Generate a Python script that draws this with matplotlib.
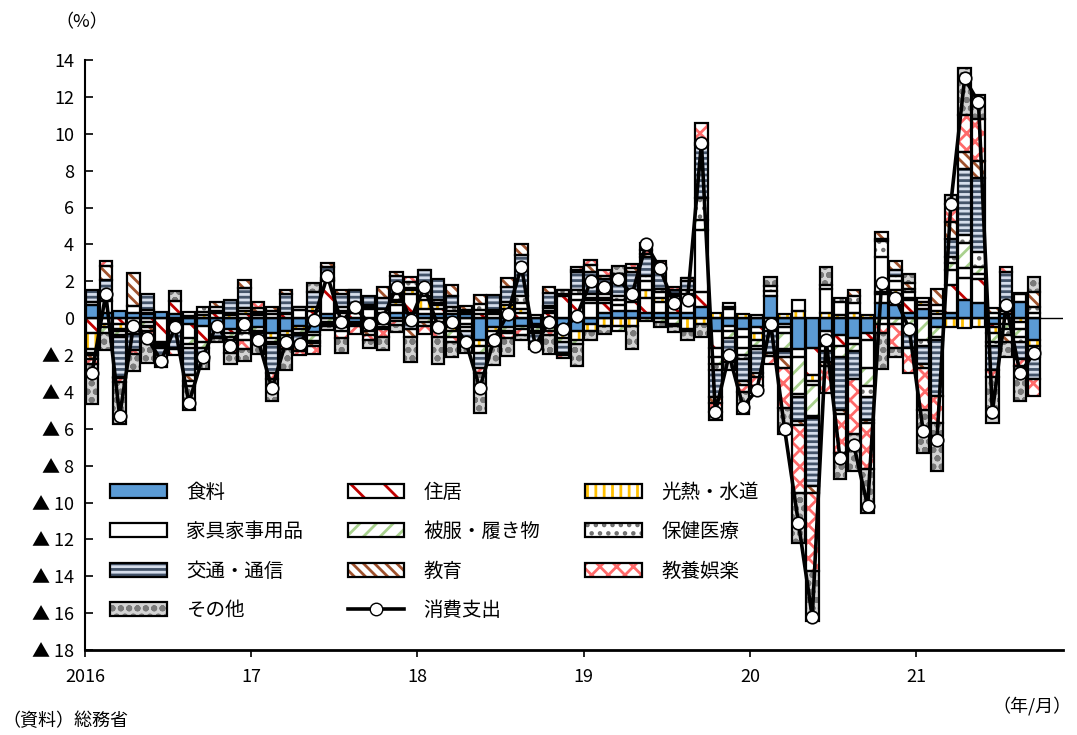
import numpy as np
import matplotlib
matplotlib.use('Agg')
import matplotlib.pyplot as plt
from matplotlib.patches import Patch
from matplotlib.lines import Line2D

plt.rcParams['font.family'] = ['Noto Sans CJK JP', 'DejaVu Sans']
plt.rcParams['hatch.linewidth'] = 2.0

# contributions to consumption expenditure (pt), 2016/1 - 2021/9
food = [0.7, 0.3, 0.4, 0.3, 0.2, 0.35, 0.2, -0.3, -0.4, -0.3, -0.6, -0.6,
        -0.5, -0.8, -0.7, -0.4, -0.73, 0.2, -0.3, -0.2, -0.4, -0.3, 0.3, 0.3,
        0.2, 0.2, 0.2, 0.2, -1.2, -0.5, -0.5, -0.4, -0.3, -0.5, -0.4, -0.7,
        -0.3, 0.3, 0.4, 0.4, 0.3, 0.3, 0.3, 0.3, 0.6, -0.7, -0.4, -0.6,
        -0.5, 1.2, -0.3, -1.7, -1.6, -0.7, -0.9, -1.1, -0.8, 0.8, 0.7, 0.3,
        0.5, -0.5, 0.3, 1.0, 0.8, -0.3, 0.2, 0.9, -1.2]
housing = [-0.8, -0.3, -0.3, -0.3, -0.2, -1.3, 0.75, -0.8, -0.9, 0.3, -0.2, 0.2,
           0.15, 0.2, 0.2, 0.45, 0.4, 1.8, 0.3, 0.3, 0.5, 0.2, 0.4, 1.0,
           0.3, 0.3, -0.5, -0.3, 0.2, 0.2, 0.5, 0.3, 0.15, 0.3, 1.2, 1.0,
           0.8, 0.5, 0.3, 0.5, 0.8, 0.6, 0.5, 0.7, 0.8, -0.9, 0.5, -0.4,
           -0.3, -0.2, -0.2, -0.4, -1.5, -0.8, -0.6, -0.3, -0.4, 0.5, 0.6, 0.7,
           0.2, 0.2, 1.5, 1.2, 1.3, -0.2, 0.2, 0.4, 0.3]
utilities = [-0.9, -0.2, -0.3, -0.1, 0.1, -0.1, -0.1, 0.1, 0.15, 0.1, 0.15, 0.2,
             0.1, -0.3, -0.2, -0.2, 0.2, 0.05, 0.1, 0.1, 0.1, 0.1, 0.2, 0.2,
             0.5, 0.2, -0.2, 0.15, -0.3, -0.2, 0.2, 0.2, -0.1, 0.1, -0.7, -0.5,
             -0.4, -0.4, -0.4, -0.4, 0.4, 0.2, 0.1, -0.6, -0.3, 0.3, 0.1, 0.25,
             -0.4, -0.3, 0.25, 0.4, -0.3, 0.3, 0.15, 0.3, 0.16, 0.1, 0.2, 0.1,
             0.2, 0.2, -0.47, -0.56, -0.47, -0.3, -0.3, -0.2, -0.3]
furniture = [0.2, 0.65, -0.1, 0.35, 0.15, -0.05, -0.1, 0.25, 0.2, 0.2, 0.15, 0.15,
             0.1, 0.2, 0.1, 0.15, -0.2, 0.15, 0.2, 0.1, -0.1, 0.2, -0.15, 0.15,
             0.2, 0.1, 0.2, 0.1, 0.25, 0.15, 0.2, 0.3, -0.1, 0.15, 0.13, 0.3,
             0.2, 0.2, 0.3, 0.3, 0.5, 0.3, 0.3, 0.3, 3.4, -0.5, -0.3, -0.6,
             0.15, 0.25, -0.3, 0.6, -0.2, 1.3, 0.7, 0.5, -1.5, 1.9, 0.5, 0.3,
             0.17, 0.3, 0.8, 0.5, 0.3, 0.3, 0.3, -0.4, -0.3]
clothing = [-0.2, -0.3, -0.2, -0.3, -0.2, -0.1, -0.2, -0.3, -0.3, -0.2, -0.2, -0.2,
            -0.2, -0.2, -0.3, -0.2, -0.3, -0.2, -0.2, -0.1, -0.2, -0.2, 0.1, -0.2,
            -0.2, -0.2, -0.3, -0.2, -0.4, -0.3, -0.2, -0.2, -0.2, -0.2, -0.2, -0.2,
            0.1, 0.1, -0.3, 0.1, -0.15, -0.2, -0.3, -0.1, 0.5, -0.4, -0.4, -0.4,
            -0.3, -0.2, -0.9, -2.0, -1.7, -0.3, -0.6, -0.4, -1.0, -0.3, -0.3, -0.6,
            -1.2, -0.5, 0.4, 1.4, 0.4, -0.5, -0.3, -0.4, -0.3]
medical = [-0.1, 0.35, -0.1, -0.15, -0.1, -0.05, -0.1, -0.2, 0.25, -0.1, -0.2, -0.4,
           -0.1, -0.1, -0.1, -0.1, -0.1, -0.1, -0.2, 0.1, 0.1, -0.1, 0.3, 0.3,
           0.3, 0.2, 0.2, -0.2, 0.3, 0.1, -0.1, 0.4, -0.1, 0.1, 0.2, 0.2,
           0.2, 0.2, 0.2, 0.2, 0.3, 0.2, 0.1, 0.2, 1.2, -0.3, 0.2, -0.2,
           -0.2, 0.3, -0.1, -0.2, -0.1, 0.2, 0.22, 0.4, -0.6, 0.9, 0.3, 0.2,
           -0.3, -0.2, 0.3, 0.4, 0.8, -0.2, -0.3, -0.3, 0.3]
transport = [0.6, 0.75, -2.2, -0.9, 0.85, -0.7, -1.1, -1.5, -0.5, -0.4, 0.7, 1.1,
             -0.6, -1.6, 1.0, -0.6, 0.8, 0.6, 0.7, 0.9, 0.5, 0.6, 1.0, -0.4,
             1.1, 1.1, 0.6, -0.6, -0.8, 0.8, 0.8, 2.2, -0.5, 0.7, -0.6, 1.0,
             1.2, 0.8, 0.9, 1.0, 1.0, 1.1, 0.2, 0.5, 2.9, -1.5, -0.8, -1.2,
             -1.3, -1.2, -0.3, -1.3, -3.7, -0.6, -2.9, -1.5, -1.2, 0.07, 0.3, -1.0,
             -1.0, -3.0, 1.0, 3.6, 4.0, -1.3, 1.8, -0.9, -1.2]
education = [-0.2, 0.8, -0.05, 1.8, -0.2, -0.05, -0.1, -0.3, -0.15, 0.3, -0.3, 0.4,
             0.2, 0.2, 0.2, -0.3, -0.2, 0.2, 0.2, -0.15, -0.2, 0.6, 0.2, -0.4,
             -0.2, -0.3, 0.6, 0.2, 0.5, -0.2, 0.5, 0.6, -0.1, 0.35, -0.1, 0.1,
             0.4, 0.2, 0.1, 0.2, 0.2, 0.2, -0.1, 0.15, 0.1, -0.3, -0.2, -0.2,
             -0.2, -0.17, -0.6, -0.2, -0.4, -0.2, -0.2, 0.3, -0.2, 0.4, 0.5, 0.3,
             -0.2, 0.9, 0.9, 0.9, 0.9, 0.23, -0.4, 0.08, 0.8]
recreation = [-0.3, 0.25, -0.2, -0.2, -0.3, -0.1, -0.3, -0.3, -0.1, -0.1, -0.4, -0.5,
              0.3, -0.3, -0.4, -0.2, -0.4, -0.15, -0.4, -0.4, -0.3, -0.45, -0.2, 0.3,
              -0.45, -0.5, -0.3, -0.2, -0.3, -0.3, -0.3, -0.3, -0.15, -0.2, -0.15, 0.2,
              0.23, 0.3, 0.2, 0.25, 0.2, 0.2, 0.2, 0.0, 1.1, -0.5, -0.3, -0.4,
              -0.5, -0.4, -2.2, -3.7, -4.2, -1.45, -2.1, -3.0, -2.5, -0.5, -1.3, -1.4,
              -2.3, -1.5, 1.0, 2.0, 2.3, -0.4, 0.26, -0.4, -0.9]
other = [-2.15, -0.95, -2.3, -0.9, -1.45, -0.2, 0.5, -1.3, -0.4, -0.2, -0.6, -0.6,
         -0.53, -1.17, -1.14, 0.0, 0.5, -0.2, -0.8, 0.0, -0.4, -0.7, -0.4, -1.4,
         0.0, -1.5, -0.8, -0.4, -2.14, -1.06, -0.97, -0.3, -0.1, -1.03, 0.0, -1.22,
         -0.5, -0.44, 0.43, -1.25, 0.4, -0.27, -0.35, -0.5, -0.7, -0.4, -0.4, -1.2,
         -0.35, 0.5, -1.4, -2.7, -2.7, 1.0, -1.45, -2.0, -2.36, -1.95, -0.5, 0.5,
         -2.3, -2.6, 0.5, 2.56, 1.3, -2.5, -0.8, -1.9, 0.85]
total = [-3.0, 1.3, -5.3, -0.4, -1.1, -2.3, -0.5, -4.6, -2.1, -0.4, -1.5, -0.3,
         -1.2, -3.8, -1.3, -1.4, -0.1, 2.3, -0.2, 0.6, -0.3, 0.0, 1.7, -0.1,
         1.7, -0.5, -0.2, -1.3, -3.8, -1.2, 0.2, 2.8, -1.5, -0.2, -0.6, 0.1,
         2.0, 1.7, 2.1, 1.3, 4.0, 2.7, 0.8, 1.0, 9.5, -5.1, -2.0, -4.8,
         -3.9, -0.3, -6.0, -11.1, -16.2, -1.2, -7.6, -6.9, -10.2, 1.9, 1.1, -0.6,
         -6.1, -6.6, 6.2, 13.0, 11.7, -5.1, 0.7, -3.0, -1.9]

year_labels = ['2016', '17', '18', '19', '20', '21']
yticks = list(range(14, -19, -2))

# name, values, face, hatch, hatch colour
series = [
    ('食料', food, '#5B9BD5', None, '#5B9BD5'),
    ('住居', housing, 'white', '\\', '#C00000'),
    ('光熱・水道', utilities, 'white', '||', '#FFC000'),
    ('家具家事用品', furniture, 'white', None, 'white'),
    ('被服・履き物', clothing, 'white', '//', '#A9D18E'),
    ('保健医療', medical, 'white', '..', '#6F6F6F'),
    ('交通・通信', transport, '#D6DEEC', '---', '#44546A'),
    ('教育', education, 'white', '\\\\\\', '#A0522D'),
    ('教養娯楽', recreation, 'white', 'xx', '#FF6A6A'),
    ('その他', other, '#D4D4D4', 'oo', '#7A7A7A'),
]

fig = plt.figure(figsize=(10.77, 7.35), dpi=100)
ax = fig.add_axes([85 / 1077, 85 / 735, 978 / 1077, 590 / 735])

x = np.arange(len(total))
pos_base = np.zeros(len(total))
neg_base = np.zeros(len(total))
w = 0.9
handles = []
for name, vals, face, hatch, hcol in series:
    v = np.array(vals)
    bottom = np.where(v >= 0, pos_base, neg_base)
    ax.bar(x, v, w, bottom=bottom, color=face, edgecolor=hcol,
           hatch=hatch, linewidth=0, zorder=2)
    ax.bar(x, v, w, bottom=bottom, fill=False, edgecolor='black',
           linewidth=1.6, zorder=3)
    pos_base = pos_base + np.where(v > 0, v, 0)
    neg_base = neg_base + np.where(v < 0, v, 0)
    hp = Patch(facecolor=face, edgecolor=hcol, hatch=hatch, linewidth=0)
    handles.append(((hp, Patch(fill=False, edgecolor='black', linewidth=1.6)), name))

ax.axhline(0, color='black', linewidth=1.0, zorder=4)
ax.plot(x, total, color='black', linewidth=2.6, marker='o', markersize=9,
        markerfacecolor='white', markeredgecolor='black', markeredgewidth=1.2,
        zorder=5)
line_h = Line2D([], [], color='black', linewidth=2.6, marker='o', markersize=9,
                markerfacecolor='white', markeredgecolor='black')
handles.append((line_h, '消費支出'))

ax.set_xlim(-0.5, 70.1)
ax.set_ylim(-18, 14)
ax.set_xticks(np.arange(len(year_labels)) * 12 - 0.5)
ax.set_xticklabels(year_labels, fontsize=13)
ax.set_yticks(yticks)
ax.set_yticklabels([str(t) if t >= 0 else '▲ ' + str(-t) for t in yticks], fontsize=13)
ax.tick_params(axis='y', direction='in', length=6, width=1.2, pad=8)
ax.tick_params(axis='x', direction='out', length=5, width=1.2, pad=8)
for s in ['top', 'right']:
    ax.spines[s].set_visible(False)
ax.spines['left'].set_linewidth(1.5)
ax.spines['bottom'].set_linewidth(2.0)

# legend laid out row by row like the original
order = [0, 3, 6, 9, 1, 4, 7, 10, 2, 5, 8]
leg = ax.legend([handles[i][0] for i in order], [handles[i][1] for i in order],
                ncol=3, loc='upper left', bbox_to_anchor=(0.008, 0.315),
                frameon=False, fontsize=14, handlelength=2.9, handleheight=0.75,
                labelspacing=0.95, columnspacing=2.3, handletextpad=1.0)
leg.set_zorder(6)

fig.text(55 / 1077, 1 - 22 / 735, '（%）', fontsize=13, va='center', ha='left')
fig.text(1072 / 1077, 1 - 706 / 735, '（年/月）', fontsize=13, va='center', ha='right')
fig.text(2 / 1077, 1 - 721 / 735, '（資料）総務省', fontsize=13, va='center', ha='left')

fig.savefig('out.png', dpi=100)
